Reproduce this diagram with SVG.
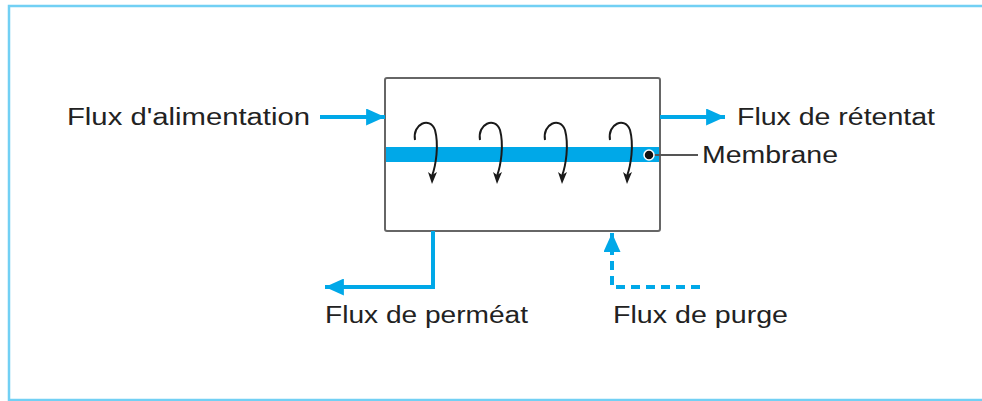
<svg xmlns="http://www.w3.org/2000/svg" width="982" height="401" viewBox="0 0 982 401">
<defs>
<style>
.lbl{font-family:"Liberation Sans",Arial,sans-serif;font-size:23px;fill:#222}
.flow{stroke:#00a8e8;stroke-width:4;fill:none}
.curl{stroke:#1a1a1a;stroke-width:2;fill:none}
</style>
<marker id="ah" viewBox="0 0 20 18" refX="20" refY="9" markerWidth="20" markerHeight="17" markerUnits="userSpaceOnUse" orient="auto">
<path d="M0 0 L20 9 L0 18 Z" fill="#00a8e8"/>
</marker>
<marker id="ch" viewBox="0 0 8 12" refX="4" refY="12" markerWidth="7" markerHeight="11" markerUnits="userSpaceOnUse" orient="auto-start-reverse">
<path d="M0 0 L4 12 L8 0 L4 3 Z" fill="#1a1a1a"/>
</marker>
</defs>
<rect x="9" y="6" width="990" height="394" fill="#fff" stroke="#72d0f4" stroke-width="2.5"/>
<g id="module">
<rect x="385" y="78" width="275" height="153" rx="2" fill="#fff" stroke="#666" stroke-width="2"/>
<rect x="386" y="147" width="273" height="15" fill="#00a8e8"/>
</g>
<g id="curls">
<path class="curl" d="M415 140 C412 124,430 116,435 130 C439 145,436 165,432 176"/>
<path class="curl" d="M480 140 C477 124,495 116,500 130 C504 145,501 165,497 176"/>
<path class="curl" d="M545 140 C542 124,560 116,565 130 C569 145,566 165,562 176"/>
<path class="curl" d="M610 140 C607 124,625 116,630 130 C634 145,631 165,627 176"/>
<path d="M428 172 L432 184 L437 172 L432 175 Z" fill="#1a1a1a"/>
<path d="M493 172 L497 184 L502 172 L497 175 Z" fill="#1a1a1a"/>
<path d="M558 172 L562 184 L567 172 L562 175 Z" fill="#1a1a1a"/>
<path d="M623 172 L627 184 L632 172 L627 175 Z" fill="#1a1a1a"/>
</g>
<g id="connectors">
<line class="flow" x1="320" y1="117" x2="385" y2="117" marker-end="url(#ah)"/>
<line class="flow" x1="660" y1="117" x2="725" y2="117" marker-end="url(#ah)"/>
<polyline class="flow" points="433,231 433,287 325,287" marker-end="url(#ah)"/>
<polyline class="flow" points="700,287 612,287 612,233" stroke-dasharray="9,6" marker-end="url(#ah)"/>
<line x1="649" y1="155" x2="698" y2="155" stroke="#555" stroke-width="2"/>
<circle cx="649" cy="155" r="5" fill="#111" stroke="#fff" stroke-width="1.5"/>
</g>
<g id="labels">
<text class="lbl" x="67" y="125" textLength="243" lengthAdjust="spacingAndGlyphs">Flux d'alimentation</text>
<text class="lbl" x="737" y="125" textLength="198" lengthAdjust="spacingAndGlyphs">Flux de rétentat</text>
<text class="lbl" x="702" y="163" textLength="136" lengthAdjust="spacingAndGlyphs">Membrane</text>
<text class="lbl" x="325" y="323" textLength="203" lengthAdjust="spacingAndGlyphs">Flux de perméat</text>
<text class="lbl" x="613" y="323" textLength="175" lengthAdjust="spacingAndGlyphs">Flux de purge</text>
</g>
</svg>
